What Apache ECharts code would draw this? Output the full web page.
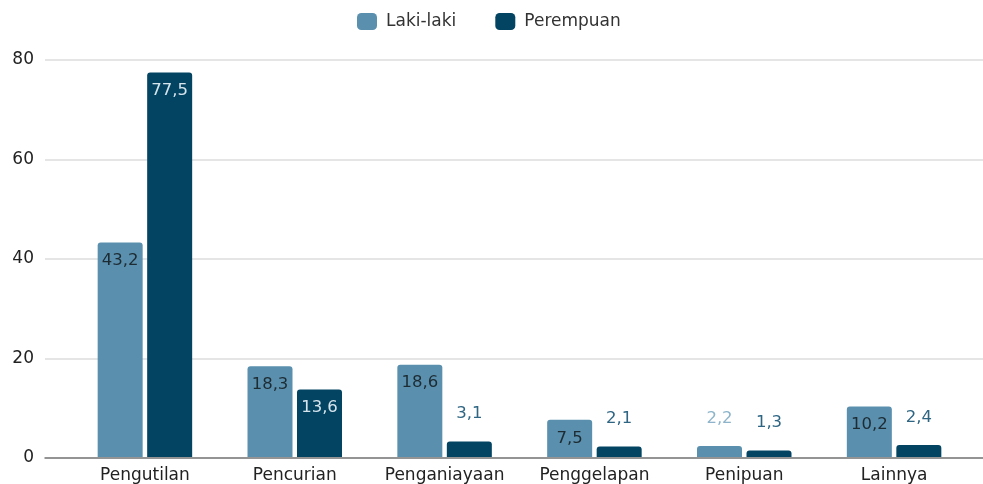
<!DOCTYPE html>
<html>
<head>
<meta charset="utf-8">
<script src="https://cdn.jsdelivr.net/npm/echarts@6/dist/echarts.min.js"></script>
<style>
html,body{margin:0;padding:0;background:#fff;}
#c{width:983px;height:484px;}
</style>
</head>
<body>
<div id="c"></div>
<script>
var categories = ['Pengutilan', 'Pencurian', 'Penganiayaan', 'Penggelapan', 'Penipuan', 'Lainnya'];
var lakiLaki = [43.2, 18.3, 18.6, 7.5, 2.2, 10.2];
var perempuan = [77.5, 13.6, 3.1, 2.1, 1.3, 2.4];
var seriesNames = ['Laki-laki', 'Perempuan'];
var yTicks = [0, 20, 40, 60, 80];

var FONT = 'DejaVu Sans';
var LIGHT = '#5a90ae';
var DARK = '#034462';

function fmt(v) { return String(v).replace('.', ','); }

function buildData(values, insideColor, outsideColor) {
  return values.map(function (v) {
    var inside = v >= 5;
    return {
      value: v,
      label: {
        show: true,
        position: inside ? 'insideTop' : 'top',
        distance: inside ? 10 : 19,
        color: inside ? insideColor : outsideColor,
        fontFamily: FONT,
        fontSize: 16.5,
        formatter: function (p) { return fmt(p.value); }
      }
    };
  });
}

var chart = echarts.init(document.getElementById('c'), null, {renderer: 'canvas'});
chart.setOption({
  animation: false,
  backgroundColor: '#ffffff',
  legend: {
    data: seriesNames,
    left: 357,
    top: 13,
    padding: 0,
    itemWidth: 20,
    itemHeight: 17,
    itemGap: 39,
    icon: 'roundRect',
    textStyle: {fontFamily: FONT, fontSize: 17, color: '#333', padding: [0, 0, 0, 4]}
  },
  grid: [
    {left: 45, right: 0, top: 60, bottom: 26},
    {left: 70, right: 14, top: 60, bottom: 26}
  ],
  xAxis: [
    {
      gridIndex: 0, type: 'value', min: 0, max: 1,
      axisLine: {show: true, lineStyle: {color: '#7a7a7a', width: 1.5}},
      axisTick: {show: false}, axisLabel: {show: false}, splitLine: {show: false}
    },
    {
      gridIndex: 1, type: 'category', data: categories,
      axisLine: {show: false}, axisTick: {show: false},
      axisLabel: {interval: 0, fontFamily: FONT, fontSize: 17, color: '#222', margin: 10}
    }
  ],
  yAxis: [
    {
      gridIndex: 0, type: 'value', min: yTicks[0], max: yTicks[yTicks.length - 1], interval: 20,
      axisLine: {show: false}, axisTick: {show: false},
      axisLabel: {fontFamily: FONT, fontSize: 17, color: '#222', margin: 11},
      splitLine: {lineStyle: {color: '#dcdcdc', width: 1.5}}
    },
    {
      gridIndex: 1, type: 'value', min: yTicks[0], max: yTicks[yTicks.length - 1], interval: 20,
      show: false, splitLine: {show: false}
    }
  ],
  series: [
    {
      name: seriesNames[0], type: 'bar', xAxisIndex: 1, yAxisIndex: 1,
      barWidth: 45, barGap: '10%',
      itemStyle: {color: LIGHT, borderRadius: [3, 3, 0, 0]},
      data: buildData(lakiLaki, '#1d2b33', '#8db4ca')
    },
    {
      name: seriesNames[1], type: 'bar', xAxisIndex: 1, yAxisIndex: 1,
      barWidth: 45, barGap: '10%',
      itemStyle: {color: DARK, borderRadius: [3, 3, 0, 0]},
      data: buildData(perempuan, '#d6e4ec', '#2e6583')
    }
  ]
});
</script>
</body>
</html>
